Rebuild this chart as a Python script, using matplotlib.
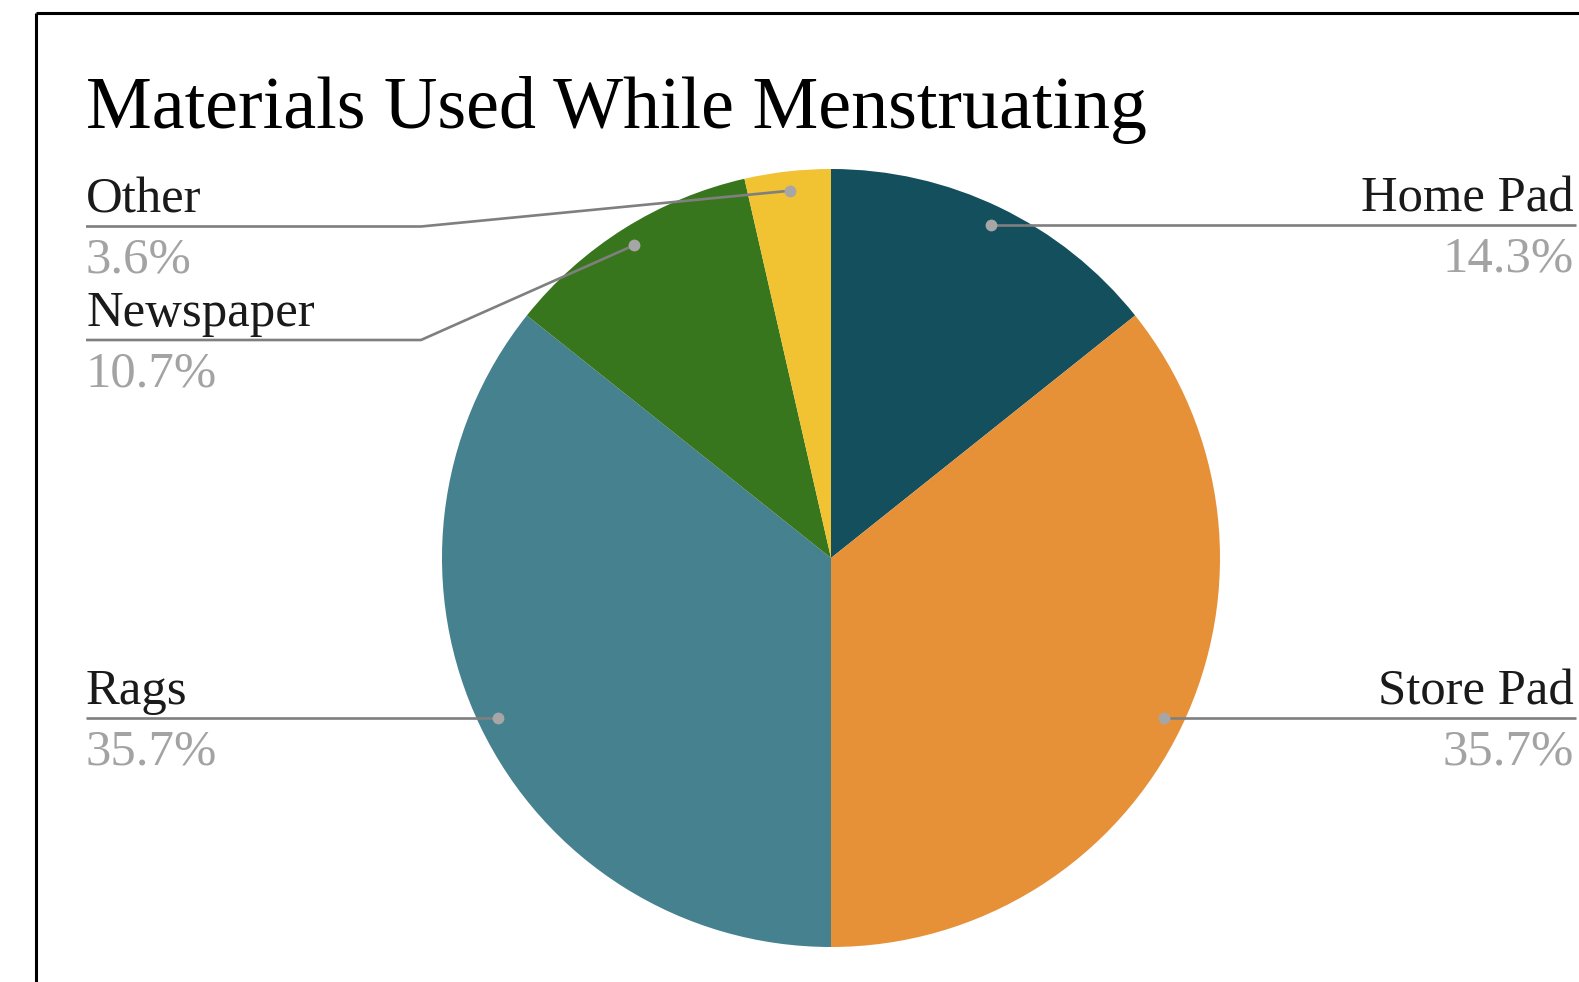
import numpy as np
import matplotlib
matplotlib.use("Agg")
from matplotlib import pyplot as plt

W, H = 1579, 982

labels = ["Home Pad", "Store Pad", "Rags", "Newspaper", "Other"]
counts = [4, 10, 10, 3, 1]
colors = ["#134f5c", "#e69138", "#45818e", "#38761d", "#f1c232"]
title = "Materials Used While Menstruating"

# label layout, in pixels from the top-left corner: (side, line y, elbow x)
# line y None -> the line runs level with the dot
layout = {
    "Home Pad": ("right", None, None),
    "Store Pad": ("right", None, None),
    "Rags": ("left", None, None),
    "Newspaper": ("left", 340, 421),
    "Other": ("left", 226.5, 421),
}

plt.rcParams["font.family"] = ["Liberation Serif", "DejaVu Serif"]

fig = plt.figure(figsize=(W / 100, H / 100), dpi=100)
ax = fig.add_axes([0, 0, 1, 1])


def Y(y):
    return H - y


cx, cy, R = 831, 558, 389
wedges, _ = ax.pie(counts, colors=colors, startangle=90, counterclock=False,
                   center=(cx, Y(cy)), radius=R,
                   wedgeprops=dict(linewidth=0, antialiased=True))

x_left, x_right = 86, 1576
line_kw = dict(color="#7f7f7f", lw=1.9, solid_capstyle="butt", zorder=3)
pct = np.array(counts) / sum(counts) * 100

for w, lab, p in zip(wedges, labels, pct):
    side, ly, elbow = layout[lab]
    ang = np.deg2rad((w.theta1 + w.theta2) / 2)
    dx, dy = cx + 0.95 * R * np.cos(ang), Y(cy) + 0.95 * R * np.sin(ang)
    if ly is None:
        ly = H - dy
    if side == "right":
        ax.plot([dx, x_right], [dy, Y(ly)], **line_kw)
        tx, ha = x_right - 2, "right"
    else:
        if elbow is None:
            ax.plot([x_left, dx], [Y(ly), dy], **line_kw)
        else:
            ax.plot([x_left, elbow, dx], [Y(ly), Y(ly), dy], **line_kw)
        tx, ha = x_left, "left"
    ax.plot(dx, dy, "o", ms=8.5, color="#a6a6a6", mec="none", zorder=4)
    ax.text(tx, Y(ly - 14), lab, ha=ha, va="baseline", fontsize=36.5,
            color="#1a1a1a")
    ax.text(tx, Y(ly + 46), f"{p:.1f}%", ha=ha, va="baseline", fontsize=36.5,
            color="#a3a3a3")

ax.text(86, Y(128), title, ha="left", va="baseline", fontsize=53.3, color="black")

# frame of the screenshot: top and left edges only
ax.plot([36, W], [Y(13), Y(13)], color="black", lw=2.2, solid_capstyle="butt")
ax.plot([36, 36], [Y(13), 0], color="black", lw=2.2, solid_capstyle="butt")

ax.set_xlim(0, W)
ax.set_ylim(0, H)
ax.set_aspect("auto")
ax.axis("off")

fig.savefig("out.png", dpi=100, facecolor="white")
